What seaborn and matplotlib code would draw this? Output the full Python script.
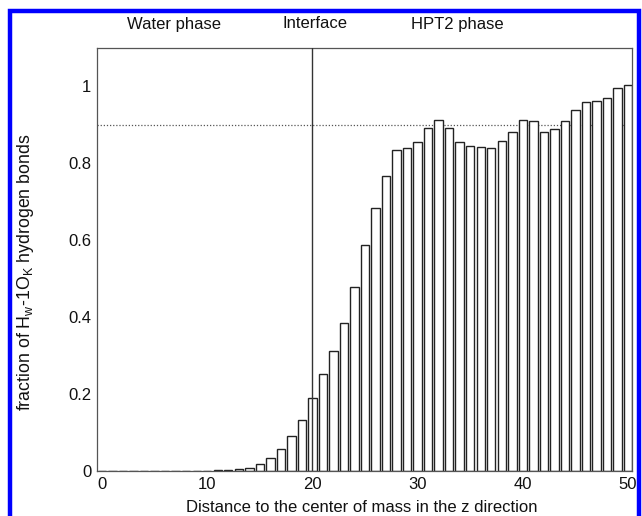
import matplotlib
matplotlib.use("Agg")
import matplotlib.pyplot as plt
from matplotlib.patches import Rectangle
import seaborn as sns
import pandas as pd

# ---- data ----
distance = list(range(0, 51))
fraction = [0, 0, 0, 0, 0, 0, 0, 0, 0, 0,
            0.001, 0.002, 0.002, 0.005, 0.008, 0.018, 0.033, 0.056, 0.090, 0.132,
            0.190, 0.251, 0.313, 0.386, 0.479, 0.589, 0.685, 0.766, 0.835, 0.840,
            0.856, 0.891, 0.913, 0.891, 0.856, 0.845, 0.843, 0.839, 0.857, 0.881,
            0.913, 0.909, 0.881, 0.889, 0.911, 0.940, 0.960, 0.963, 0.969, 0.997,
            1.003]
x_ticks = [0, 10, 20, 30, 40, 50]
y_ticks = [0, 0.2, 0.4, 0.6, 0.8, 1.0]
y_tick_labels = ["0", "0.2", "0.4", "0.6", "0.8", "1"]
interface_at = 20
reference_level = 0.9
region_labels = ["Water phase", "Interface", "HPT2 phase"]

df = pd.DataFrame({"distance": distance, "fraction": fraction})

sns.set_style("white")
plt.rcParams["font.family"] = ["Liberation Sans", "DejaVu Sans"]
plt.rcParams["mathtext.fontset"] = "custom"
plt.rcParams["mathtext.rm"] = "Liberation Sans"
plt.rcParams["mathtext.it"] = "Liberation Sans"

fig = plt.figure(figsize=(6.42, 5.16), dpi=100)
ax = fig.add_axes([97 / 642, 1 - 471 / 516, (632 - 97) / 642, (471 - 48) / 516])

sns.barplot(data=df, x="distance", y="fraction", native_scale=True, width=0.8,
            color="white", edgecolor="#222222", linewidth=1.0, errorbar=None,
            saturation=1, ax=ax)

ax.axhline(reference_level, color="#555555", linestyle=(0, (1, 1.5)), linewidth=0.9, zorder=0.5)
ax.axvline(interface_at, color="#333333", linewidth=1.0, zorder=3)

ax.set_xlim(-0.48, 50.38)
ax.set_ylim(0, 1.1)
ax.set_xticks(x_ticks)
ax.set_xticklabels([str(t) for t in x_ticks])
ax.set_yticks(y_ticks)
ax.set_yticklabels(y_tick_labels)
ax.tick_params(axis="both", labelsize=12, direction="in", length=3, color="#555555", pad=4,
               labelcolor="#111111")

for s in ax.spines.values():
    s.set_visible(True)
    s.set_color("#555555")
    s.set_linewidth(0.9)

ax.set_xlabel("Distance to the center of mass in the z direction", fontsize=12, color="#111111")
ax.set_ylabel(r"fraction of H$_{w}$-1O$_{K}$ hydrogen bonds", fontsize=12.8, color="#111111")
ax.xaxis.set_label_coords(0.494, -0.068)
ax.yaxis.set_label_coords(-0.114, 0.47)

fig.text(174 / 642, 1 - 25 / 516, region_labels[0], ha="center", va="center", fontsize=12, color="#111111")
fig.text(315 / 642, 1 - 23 / 516, region_labels[1], ha="center", va="center", fontsize=12, color="#111111")
fig.text(457 / 642, 1 - 25 / 516, region_labels[2], ha="center", va="center", fontsize=12, color="#111111")

# blue frame around the figure (left, top, right; bottom cut off)
fig.patches.append(Rectangle((10.5 / 642, -0.05), (639 - 10.5) / 642, 1.05 - 10.5 / 516,
                             transform=fig.transFigure, fill=False,
                             edgecolor="#0000ff", linewidth=3.2, figure=fig))

fig.savefig("out.png", dpi=100)
